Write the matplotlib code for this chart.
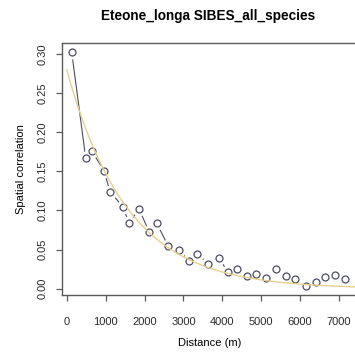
import numpy as np
import matplotlib
matplotlib.use("Agg")
import matplotlib.pyplot as plt

plt.rcParams['font.family'] = ['Liberation Sans', 'DejaVu Sans']

# mean lag distance (m) and spatial correlation
distance = [129, 488, 643, 959, 1113, 1440, 1602, 1859, 2123, 2314,
            2612, 2895, 3144, 3357, 3640, 3923, 4139, 4370, 4643, 4866,
            5131, 5388, 5645, 5877, 6160, 6401, 6640, 6889, 7154]
correlation = [0.302, 0.167, 0.176, 0.151, 0.124, 0.105, 0.084, 0.102, 0.072, 0.084,
               0.054, 0.050, 0.035, 0.044, 0.032, 0.039, 0.021, 0.025, 0.016, 0.019,
               0.014, 0.025, 0.016, 0.013, 0.003, 0.009, 0.015, 0.017, 0.0125]

# exponential model fitted to the correlogram (values estimated from the curve)
model_sill = 0.28
model_range = 1557
model_dist = np.linspace(0, 7460, 300)
model_corr = model_sill * np.exp(-model_dist / model_range)

title = "Eteone_longa SIBES_all_species"
xticks = list(range(0, 8000, 1000))
yticks = [0.00, 0.05, 0.10, 0.15, 0.20, 0.25, 0.30]

W, H = 355, 358
fig = plt.figure(figsize=(W / 100, H / 100), dpi=100)
ax = fig.add_axes([62 / W, (H - 295) / H, (357 - 62) / W, (295 - 43) / H])

pt_col = '#4c4c62'
ax.plot(distance, correlation, '-', color=pt_col, lw=0.8, zorder=1)
ax.plot(distance, correlation, 'o', ms=9, mfc='white', mec='white', zorder=2)
ax.plot(distance, correlation, 'o', ms=5, mfc='none', mec=pt_col, mew=0.9, zorder=3)
ax.plot(model_dist, model_corr, '-', color='#e9cf8e', lw=1.0, zorder=4)

ax.set_xlim(-121, 7460)
ax.set_ylim(-0.008, 0.314)
ax.set_xticks(xticks)
ax.set_xticklabels([str(v) for v in xticks])
ax.set_yticks(yticks)
ax.set_yticklabels(["%.2f" % v for v in yticks], rotation=90, va='center')

for s in ax.spines.values():
    s.set_color('#5a5a5a')
    s.set_linewidth(1.0)
ax.spines['right'].set_visible(False)
ax.tick_params(axis='both', colors='#5a5a5a', labelcolor='#2a2a2a',
               labelsize=8, length=4.5, width=0.9)
ax.tick_params(axis='x', pad=11)
ax.tick_params(axis='y', pad=6)

ax.set_xlabel("Distance (m)", fontsize=8, labelpad=8)
ax.set_ylabel("Spatial correlation", fontsize=8, labelpad=8)
fig.text(208.5 / W, 1 - 16 / H, title, ha='center', va='center',
         fontsize=9.8, fontweight='bold')

fig.savefig("out.png", dpi=100)
